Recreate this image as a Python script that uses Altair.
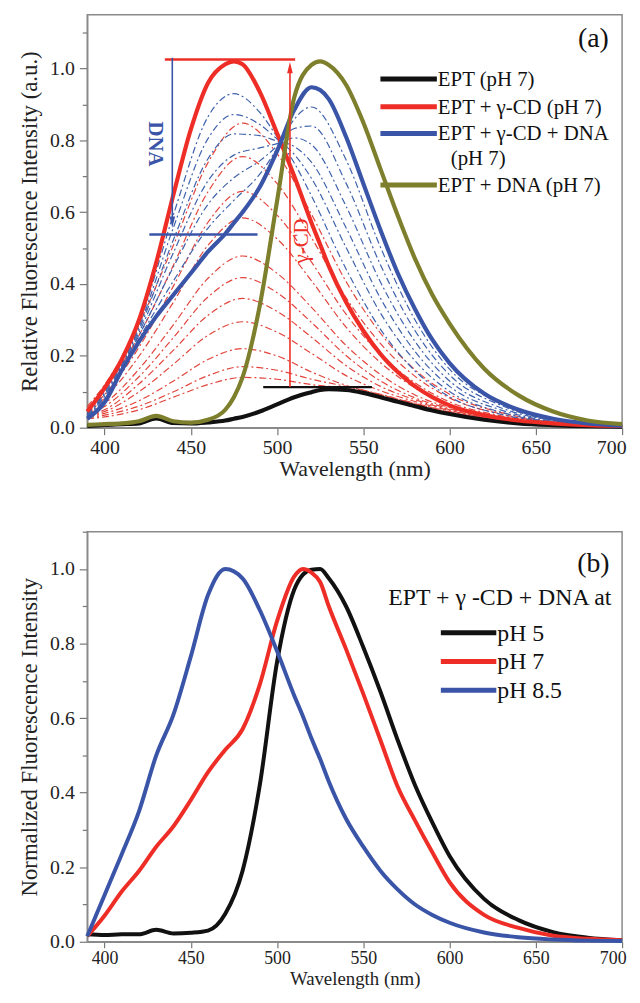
import altair as alt
import pandas as pd

# ---------------- Panel (a) data ----------------
wl_a = [390, 400, 410, 420, 430, 440, 450, 460, 470, 475, 480, 490, 500, 510, 520, 525,
        530, 540, 550, 560, 570, 580, 590, 600, 620, 640, 660, 680, 700]
ept_a = [0.005, 0.008, 0.010, 0.012, 0.026, 0.013, 0.012, 0.015, 0.020, 0.025, 0.030, 0.045,
         0.065, 0.085, 0.099, 0.105, 0.107, 0.105, 0.097, 0.085, 0.072, 0.060, 0.048, 0.038,
         0.022, 0.012, 0.007, 0.004, 0.003]
ept_cd_a = [0.045, 0.11, 0.19, 0.30, 0.46, 0.65, 0.83, 0.96, 1.012, 1.02, 1.012, 0.935, 0.82,
            0.70, 0.57, 0.51, 0.45, 0.35, 0.27, 0.205, 0.155, 0.115, 0.085, 0.062, 0.035,
            0.02, 0.012, 0.007, 0.005]
ept_cd_dna_a = [0.025, 0.07, 0.16, 0.24, 0.31, 0.37, 0.43, 0.49, 0.54, 0.57, 0.60, 0.67, 0.77,
                0.885, 0.948, 0.94, 0.915, 0.81, 0.68, 0.55, 0.43, 0.33, 0.245, 0.18, 0.095,
                0.05, 0.025, 0.012, 0.006]
ept_dna_a = [0.008, 0.010, 0.012, 0.018, 0.033, 0.018, 0.014, 0.022, 0.05, 0.085, 0.14, 0.34,
             0.63, 0.92, 1.01, 1.02, 1.01, 0.955, 0.85, 0.72, 0.59, 0.47, 0.37, 0.29, 0.165,
             0.09, 0.045, 0.02, 0.01]

# gamma-CD titration (thin red dash-dot)
wl_cd_steps = [390, 400, 420, 440, 460, 480, 500, 520, 540, 560, 580, 600, 630, 660, 700]
cd_step_01 = [0.025, 0.03, 0.05, 0.085, 0.12, 0.14, 0.135, 0.12, 0.11, 0.09, 0.065, 0.042, 0.02, 0.009, 0.004]
cd_step_02 = [0.028, 0.035, 0.06, 0.10, 0.145, 0.17, 0.16, 0.135, 0.115, 0.092, 0.067, 0.044, 0.021, 0.01, 0.004]
cd_step_03 = [0.03, 0.04, 0.075, 0.13, 0.19, 0.22, 0.20, 0.155, 0.118, 0.093, 0.068, 0.045, 0.021, 0.01, 0.004]
cd_step_04 = [0.032, 0.045, 0.10, 0.177, 0.257, 0.295, 0.266, 0.207, 0.145, 0.103, 0.073, 0.048, 0.022, 0.01, 0.004]
cd_step_05 = [0.034, 0.05, 0.122, 0.216, 0.313, 0.36, 0.324, 0.252, 0.173, 0.115, 0.078, 0.05, 0.023, 0.01, 0.004]
cd_step_06 = [0.036, 0.059, 0.142, 0.251, 0.364, 0.418, 0.376, 0.293, 0.201, 0.13, 0.083, 0.053, 0.024, 0.011, 0.004]
cd_step_07 = [0.038, 0.067, 0.163, 0.287, 0.416, 0.478, 0.43, 0.335, 0.229, 0.148, 0.091, 0.056, 0.026, 0.011, 0.004]
cd_step_08 = [0.041, 0.082, 0.199, 0.35, 0.508, 0.584, 0.526, 0.409, 0.28, 0.181, 0.111, 0.064, 0.029, 0.012, 0.004]
cd_step_09 = [0.046, 0.092, 0.224, 0.395, 0.572, 0.658, 0.592, 0.461, 0.316, 0.204, 0.125, 0.072, 0.033, 0.013, 0.004]
cd_step_10 = [0.053, 0.106, 0.257, 0.453, 0.657, 0.755, 0.68, 0.529, 0.362, 0.234, 0.143, 0.083, 0.038, 0.015, 0.005]
cd_step_11 = [0.059, 0.119, 0.288, 0.509, 0.738, 0.848, 0.763, 0.594, 0.407, 0.263, 0.161, 0.093, 0.042, 0.017, 0.005]

# DNA titration (thin blue dash-dot)
wl_dna_steps = [390, 400, 420, 440, 460, 475, 490, 500, 510, 520, 540, 560, 580, 600, 630, 660, 700]
dna_step_1 = [0.041, 0.102, 0.288, 0.594, 0.866, 0.93, 0.878, 0.81, 0.737, 0.645, 0.442, 0.274, 0.158, 0.086, 0.037, 0.015, 0.005]
dna_step_2 = [0.038, 0.097, 0.28, 0.558, 0.805, 0.872, 0.844, 0.804, 0.761, 0.694, 0.502, 0.319, 0.186, 0.101, 0.043, 0.016, 0.005]
dna_step_3 = [0.036, 0.092, 0.273, 0.524, 0.749, 0.818, 0.813, 0.798, 0.783, 0.739, 0.557, 0.36, 0.212, 0.115, 0.049, 0.018, 0.005]
dna_step_4 = [0.033, 0.087, 0.265, 0.488, 0.687, 0.759, 0.779, 0.791, 0.807, 0.788, 0.617, 0.405, 0.24, 0.13, 0.055, 0.02, 0.006]
dna_step_5 = [0.031, 0.081, 0.257, 0.448, 0.622, 0.696, 0.743, 0.784, 0.833, 0.84, 0.681, 0.453, 0.27, 0.147, 0.062, 0.021, 0.006]
dna_step_6 = [0.028, 0.076, 0.248, 0.409, 0.556, 0.633, 0.706, 0.777, 0.859, 0.893, 0.746, 0.502, 0.30, 0.163, 0.068, 0.023, 0.006]

# annotation levels (panel a)
cd_top_x = [435.0, 510.5]
cd_top_y = 1.025
cd_base_x = [492.0, 555.0]
cd_base_y = 0.113
cd_arrow_x = 507.5
cd_arrow_y = [0.113, 1.0]
dna_bar_x = [426.0, 488.7]
dna_bar_y = 0.538
dna_arrow_x = 439.3
dna_arrow_y = [1.03, 0.575]

legend_a_labels = ["EPT (pH 7)", "EPT + γ-CD (pH 7)", "EPT + γ-CD + DNA", "EPT + DNA (pH 7)"]
legend_a_extra = "(pH 7)"

# ---------------- Panel (b) data ----------------
wl_b = [390, 400, 410, 420, 430, 440, 450, 460, 470, 480, 490, 500, 510, 515, 520, 525,
        530, 540, 550, 560, 570, 580, 590, 600, 620, 640, 660, 680, 700]
ph5_b = [0.02, 0.018, 0.02, 0.02, 0.032, 0.022, 0.024, 0.03, 0.075, 0.19, 0.42, 0.75, 0.945,
         0.985, 0.998, 1.0, 0.975, 0.90, 0.79, 0.67, 0.54, 0.42, 0.32, 0.23, 0.115, 0.058,
         0.026, 0.011, 0.004]
ph7_b = [0.015, 0.07, 0.135, 0.19, 0.255, 0.31, 0.38, 0.455, 0.515, 0.57, 0.69, 0.86, 0.98,
         1.0, 0.99, 0.965, 0.90, 0.785, 0.665, 0.54, 0.415, 0.325, 0.24, 0.16, 0.072, 0.037,
         0.016, 0.008, 0.004]
ph85_b = [0.015, 0.125, 0.235, 0.35, 0.50, 0.61, 0.765, 0.93, 1.0, 0.975, 0.89, 0.78, 0.66,
          0.605, 0.545, 0.49, 0.43, 0.33, 0.255, 0.19, 0.14, 0.10, 0.072, 0.051, 0.025,
          0.012, 0.006, 0.003, 0.002]
legend_b_title = "EPT + γ -CD + DNA at"
legend_b_labels = ["pH 5", "pH 7", "pH 8.5"]

# ---------------- styling ----------------
SERIF = "Liberation Serif"
C_BLACK = "#111111"
C_RED = "#ee2e26"
C_BLUE = "#3a55a8"
C_GREEN = "#7e7f2c"
C_RED_THIN = "#e2443c"
C_BLUE_THIN = "#3f62ad"
W, H_A, H_B = 540, 417, 414

x_scale = alt.Scale(domain=[390, 700], nice=False, zero=False)


def make_x_axis(label_size, title_size, tick, lpad, tpad):
    return alt.Axis(values=[400, 450, 500, 550, 600, 650, 700], format="d",
                    title="Wavelength (nm)", labelFlush=True, labelFlushOffset=4,
                    tickSize=tick, labelPadding=lpad, titlePadding=tpad,
                    labelFont=SERIF, titleFont=SERIF, labelFontSize=label_size,
                    titleFontSize=title_size)


def make_y_axis(title, top, label_size):
    vals = [round(i * 0.1, 1) for i in range(int(round(top * 10)) + 1)]
    return alt.Axis(values=vals, title=title, titlePadding=8, labelPadding=5,
                    labelFont=SERIF, titleFont=SERIF, labelFontSize=label_size,
                    titleFontSize=23,
                    labelExpr="round(datum.value*10) % 2 == 0 ? format(datum.value, '.1f') : ''",
                    tickSize={"condition": {"test": "round(datum.value*10) % 2 == 1", "value": 5},
                              "value": 8})


def series_df(wl, vals, name):
    return pd.DataFrame({"wl": wl, "val": vals, "curve": name})


# ---------------- Panel (a) ----------------
x_axis_a = make_x_axis(20, 22, 7, 3, 1)
ysc_a = alt.Scale(domain=[0, 1.15], nice=False)
yax_a = make_y_axis("Relative Fluorescence Intensity (a.u.)", 1.15, 20)
XA = alt.X("wl:Q", scale=x_scale, axis=x_axis_a)
YA = alt.Y("val:Q", scale=ysc_a, axis=yax_a)

cd_steps = [cd_step_01, cd_step_02, cd_step_03, cd_step_04, cd_step_05, cd_step_06,
            cd_step_07, cd_step_08, cd_step_09, cd_step_10, cd_step_11]
dna_steps = [dna_step_1, dna_step_2, dna_step_3, dna_step_4, dna_step_5, dna_step_6]
df_cd = pd.concat([series_df(wl_cd_steps, s, f"cd{i}") for i, s in enumerate(cd_steps)])
df_dna = pd.concat([series_df(wl_dna_steps, s, f"dna{i}") for i, s in enumerate(dna_steps)])

thin_cd = alt.Chart(df_cd).mark_line(color=C_RED_THIN, strokeWidth=1.2, strokeDash=[7, 3, 2, 3],
                                     interpolate="monotone").encode(x=XA, y=YA, detail="curve:N")
thin_dna = alt.Chart(df_dna).mark_line(color=C_BLUE_THIN, strokeWidth=1.2, strokeDash=[7, 3, 2, 3],
                                       interpolate="monotone").encode(x=XA, y=YA, detail="curve:N")


def thick(df, color, X, Y, width=4.2):
    return alt.Chart(df).mark_line(color=color, strokeWidth=width,
                                   interpolate="monotone").encode(x=X, y=Y)


l_ept = thick(series_df(wl_a, ept_a, "ept"), C_BLACK, XA, YA)
l_cd = thick(series_df(wl_a, ept_cd_a, "cd"), C_RED, XA, YA)
l_cddna = thick(series_df(wl_a, ept_cd_dna_a, "cddna"), C_BLUE, XA, YA)
l_dna = thick(series_df(wl_a, ept_dna_a, "dna"), C_GREEN, XA, YA)

hbars = pd.DataFrame({
    "x1": [cd_top_x[0], cd_base_x[0], dna_bar_x[0]],
    "x2": [cd_top_x[1], cd_base_x[1], dna_bar_x[1]],
    "y": [cd_top_y, cd_base_y, dna_bar_y],
    "c": [C_RED, C_BLACK, C_BLUE]})
hbar_layer = alt.Chart(hbars).mark_rule(strokeWidth=2.5).encode(
    x=alt.X("x1:Q", scale=x_scale, axis=x_axis_a), x2="x2:Q",
    y=alt.Y("y:Q", scale=ysc_a, axis=yax_a), color=alt.Color("c:N", scale=None))

vbars = pd.DataFrame({
    "x": [cd_arrow_x, dna_arrow_x],
    "y1": [cd_arrow_y[0], dna_arrow_y[0]],
    "y2": [cd_arrow_y[1], dna_arrow_y[1]],
    "c": [C_RED, C_BLUE]})
vbar_layer = alt.Chart(vbars).mark_rule(strokeWidth=1.6).encode(
    x=alt.X("x:Q", scale=x_scale, axis=x_axis_a),
    y=alt.Y("y1:Q", scale=ysc_a, axis=yax_a), y2="y2:Q",
    color=alt.Color("c:N", scale=None))

heads = pd.DataFrame({"x": [cd_arrow_x, dna_arrow_x],
                      "y": [cd_arrow_y[1], dna_arrow_y[1]],
                      "shape": ["M-0.6,1L0,-1.4L0.6,1Z", "M-0.6,-1L0,1.4L0.6,-1Z"],
                      "c": [C_RED, C_BLUE]})
head_layer = alt.Chart(heads).mark_point(filled=True, size=90, opacity=1).encode(
    x=alt.X("x:Q", scale=x_scale, axis=x_axis_a),
    y=alt.Y("y:Q", scale=ysc_a, axis=yax_a),
    shape=alt.Shape("shape:N", scale=None),
    color=alt.Color("c:N", scale=None))

dna_text = alt.Chart(pd.DataFrame({"x": [429.5], "y": [0.79], "t": ["DNA"]})).mark_text(
    angle=90, font=SERIF, fontSize=21, fontWeight="bold", color=C_BLUE).encode(
    x=alt.X("x:Q", scale=x_scale, axis=x_axis_a), y=alt.Y("y:Q", scale=ysc_a, axis=yax_a),
    text="t:N")
cd_text = alt.Chart(pd.DataFrame({"x": [514.5], "y": [0.52], "t": ["γ-CD"]})).mark_text(
    angle=270, font=SERIF, fontSize=21, color=C_RED).encode(
    x=alt.X("x:Q", scale=x_scale, axis=x_axis_a), y=alt.Y("y:Q", scale=ysc_a, axis=yax_a),
    text="t:N")


def label_layer(txt, x, y, size, color="#111", align="left", angle=0):
    return alt.Chart(pd.DataFrame({"t": [txt]})).mark_text(
        font=SERIF, fontSize=size, color=color, align=align, baseline="middle", angle=angle
    ).encode(x=alt.value(x), y=alt.value(y), text="t:N")


def swatch(x1, x2, y, color, width=5):
    return alt.Chart(pd.DataFrame({"k": [0]})).mark_rule(
        color=color, strokeWidth=width, strokeCap="butt").encode(
        x=alt.value(x1), x2=alt.value(x2), y=alt.value(y))


leg_a_colors = [C_BLACK, C_RED, C_BLUE, C_GREEN]
leg_a_rows = [65, 93, 120, 172]
leg_a = []
for lab, col, yy in zip(legend_a_labels, leg_a_colors, leg_a_rows):
    leg_a.append(swatch(296, 353, yy, col))
    leg_a.append(label_layer(lab, 354, yy + 1, 21))
leg_a.append(label_layer(legend_a_extra, 367, 146, 21))

panel_a = alt.layer(
    thin_cd, thin_dna, l_ept, l_cd, l_cddna, l_dna,
    hbar_layer, vbar_layer, head_layer, dna_text, cd_text,
    *leg_a, label_layer("(a)", 511, 25, 28, align="center")
).properties(width=W, height=H_A)

# ---------------- Panel (b) ----------------
x_axis_b = make_x_axis(18, 19, 6, 2, 2)
ysc_b = alt.Scale(domain=[0, 1.1], nice=False)
yax_b = make_y_axis("Normalized Fluorescence Intensity", 1.1, 20)
XB = alt.X("wl:Q", scale=x_scale, axis=x_axis_b)
YB = alt.Y("val:Q", scale=ysc_b, axis=yax_b)

b_ph5 = thick(series_df(wl_b, ph5_b, "ph5"), C_BLACK, XB, YB, 4)
b_ph7 = thick(series_df(wl_b, ph7_b, "ph7"), C_RED, XB, YB, 4)
b_ph85 = thick(series_df(wl_b, ph85_b, "ph85"), C_BLUE, XB, YB, 4)

leg_b_colors = [C_BLACK, C_RED, C_BLUE]
leg_b_rows = [102, 131, 160]
leg_b = [label_layer(legend_b_title, 304, 67, 24)]
for lab, col, yy in zip(legend_b_labels, leg_b_colors, leg_b_rows):
    leg_b.append(swatch(357, 413, yy, col))
    leg_b.append(label_layer(lab, 414, yy + 1, 24))

panel_b = alt.layer(
    b_ph5, b_ph7, b_ph85, *leg_b, label_layer("(b)", 511, 33, 28, align="center")
).properties(width=W, height=H_B)

chart = alt.vconcat(panel_a, panel_b, spacing=50).properties(
    padding={"left": 10, "top": 1, "right": 0, "bottom": 0}
).configure_view(stroke="#8a8a8a", strokeWidth=1.5).configure_axis(
    grid=False, labelColor="#222", titleColor="#222", titleFontWeight="normal",
    tickColor="#777", domainColor="#8a8a8a", domainWidth=1.5, tickWidth=1.2
)

chart.save("out.html", embed_options={"renderer": "svg", "actions": False})
